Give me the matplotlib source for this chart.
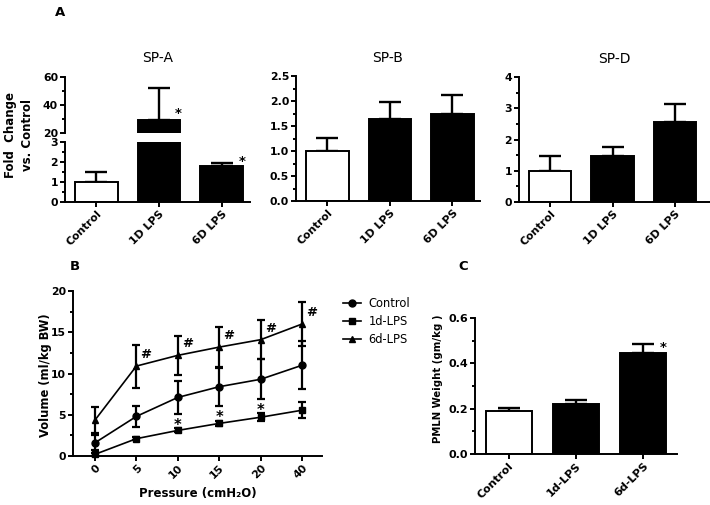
import matplotlib.pyplot as plt
import numpy as np
from matplotlib.lines import Line2D
from matplotlib.ticker import MultipleLocator

plt.rcParams['font.family'] = ['DejaVu Sans']
plt.rcParams['font.weight'] = 'bold'
plt.rcParams['axes.labelweight'] = 'bold'

# Panel A: surfactant protein fold change
groups_a = ['Control', '1D LPS', '6D LPS']
spa_mean = [1.0, 29.0, 1.8]
spa_err = [0.5, 23.0, 0.15]
spb_mean = [1.0, 1.65, 1.75]
spb_err = [0.27, 0.33, 0.38]
spd_mean = [1.0, 1.48, 2.55]
spd_err = [0.48, 0.29, 0.6]

# Panel B: pressure-volume curves
pressures = ['0', '5', '10', '15', '20', '40']
ctrl_vol = [1.6, 4.8, 7.1, 8.4, 9.3, 11.0]
ctrl_err = [0.9, 1.3, 2.0, 2.3, 2.4, 2.9]
lps1_vol = [0.2, 2.1, 3.1, 3.95, 4.7, 5.55]
lps1_err = [0.15, 0.2, 0.25, 0.35, 0.5, 0.95]
lps6_vol = [4.35, 10.9, 12.2, 13.2, 14.1, 16.0]
lps6_err = [1.6, 2.6, 2.35, 2.4, 2.35, 2.7]
hash_idx = [1, 2, 3, 4, 5]
star_idx = [2, 3, 4]

# Panel C: PMLN weight
groups_c = ['Control', '1d-LPS', '6d-LPS']
pmln_mean = [0.19, 0.22, 0.445]
pmln_err = [0.015, 0.02, 0.04]

fills = ['white', 'black', 'black']
LW = 1.4

W, H = 710, 505


def px_axes(x0, y0, x1, y1):
    # pixel box (top-left origin) -> figure fraction
    return fig.add_axes([x0 / W, 1 - y1 / H, (x1 - x0) / W, (y1 - y0) / H])


def style(ax, size=7.8):
    for s in ['top', 'right']:
        ax.spines[s].set_visible(False)
    for s in ['left', 'bottom']:
        ax.spines[s].set_linewidth(LW)
    ax.tick_params(which='major', length=3.5, width=LW, labelsize=size, pad=1.5)
    ax.tick_params(which='minor', length=2, width=LW)
    ax.tick_params(axis='x', which='minor', bottom=False)


def bars(ax, means, errs, capsize=8):
    x = np.arange(len(means))
    ax.bar(x, means, width=0.68, color=fills, edgecolor='black', linewidth=LW, zorder=2)
    ax.errorbar(x, means, yerr=[np.zeros(len(errs)), errs], fmt='none', ecolor='black',
                elinewidth=1.7, capsize=capsize, capthick=1.7, zorder=1)


def cat_labels(ax, labels, size=7.8):
    ax.set_xticks(np.arange(len(labels)))
    ax.set_xticklabels(labels, rotation=45, ha='right', rotation_mode='anchor', fontsize=size)


fig = plt.figure(figsize=(W / 100, H / 100), dpi=100)

# ---- SP-A with broken axis ----
ax_top = px_axes(65, 77, 250, 133)
ax_bot = px_axes(65, 142, 250, 202)
for ax in (ax_top, ax_bot):
    bars(ax, spa_mean, spa_err)
    style(ax)
    ax.set_xlim(-0.5, 2.45)
ax_top.set_ylim(20, 60)
ax_top.yaxis.set_major_locator(MultipleLocator(20))
ax_top.yaxis.set_minor_locator(MultipleLocator(10))
ax_top.spines['bottom'].set_visible(False)
ax_top.set_xticks([])
ax_bot.set_ylim(0, 3)
ax_bot.yaxis.set_major_locator(MultipleLocator(1))
ax_bot.yaxis.set_minor_locator(MultipleLocator(0.5))
cat_labels(ax_bot, groups_a)
ax_top.set_title('SP-A', fontsize=10, fontweight='normal', pad=10.5)
ax_top.text(1.3, spa_mean[1] + 5, '*', ha='center', va='center', fontsize=9.5)
ax_bot.text(2.32, spa_mean[2] + spa_err[2] + 0.05, '*', ha='center', va='center', fontsize=9.5)

# ---- SP-B ----
ax_b1 = px_axes(296, 76, 480, 201)
bars(ax_b1, spb_mean, spb_err)
style(ax_b1)
ax_b1.set_xlim(-0.5, 2.44)
ax_b1.set_ylim(0, 2.5)
ax_b1.yaxis.set_major_locator(MultipleLocator(0.5))
ax_b1.yaxis.set_minor_locator(MultipleLocator(0.25))
ax_b1.yaxis.set_major_formatter('{x:.1f}')
cat_labels(ax_b1, groups_a)
ax_b1.set_title('SP-B', fontsize=10, fontweight='normal', pad=10)

# ---- SP-D ----
ax_d = px_axes(519, 77, 710, 202)
bars(ax_d, spd_mean, spd_err)
style(ax_d)
ax_d.set_xlim(-0.5, 2.56)
ax_d.set_ylim(0, 4)
ax_d.yaxis.set_major_locator(MultipleLocator(1))
ax_d.yaxis.set_minor_locator(MultipleLocator(0.5))
cat_labels(ax_d, groups_a)
ax_d.set_title('SP-D', fontsize=10, fontweight='normal', pad=10)

fig.text(19 / W, 1 - 135 / H, 'Fold  Change\nvs. Control', rotation=90, ha='center',
         va='center', fontsize=8.5, linespacing=1.35)
fig.text(60 / W, 1 - 12 / H, 'A', ha='center', va='center', fontsize=9.5)

# ---- Panel B ----
ax_pv = px_axes(73, 291, 322, 456)
x = np.arange(len(pressures))
series = [(ctrl_vol, ctrl_err, 'o', 'Control'),
          (lps1_vol, lps1_err, 's', '1d-LPS'),
          (lps6_vol, lps6_err, '^', '6d-LPS')]
handles = []
for vol, err, mk, name in series:
    ax_pv.errorbar(x, vol, yerr=err, fmt='-', marker=mk, color='black', markersize=5,
                   lw=1.2, elinewidth=1.6, capsize=3, capthick=1.6, clip_on=False, zorder=3)
    handles.append(Line2D([], [], color='black', marker=mk, markersize=5, lw=1.2, label=name))
style(ax_pv, size=7.8)
ax_pv.set_xlim(-0.53, 5.48)
ax_pv.set_ylim(0, 20)
ax_pv.yaxis.set_major_locator(MultipleLocator(5))
ax_pv.yaxis.set_minor_locator(MultipleLocator(2.5))
cat_labels(ax_pv, pressures, size=7.8)
ax_pv.set_ylabel('Volume (ml/kg BW)', fontsize=8.3)
ax_pv.yaxis.set_label_coords(-0.085, 0.49)
ax_pv.set_xlabel('Pressure (cmH\u2082O)', fontsize=8.5)
ax_pv.xaxis.set_label_coords(0.502, -0.19)
for i in hash_idx:
    ax_pv.text(x[i] + 0.23, lps6_vol[i] + 1.4, '#', ha='center', va='center', fontsize=9.5)
for i in star_idx:
    ax_pv.text(x[i], lps1_vol[i] + lps1_err[i] - 0.2, '*', ha='center', va='baseline', fontsize=10.5)
fig.text(75 / W, 1 - 267 / H, 'B', ha='center', va='center', fontsize=9.5)

fig.legend(handles=handles, loc='upper left', bbox_to_anchor=(333 / W, 1 - 287 / H),
           frameon=False, handlelength=1.5, handletextpad=0.7, labelspacing=0.42,
           prop={'size': 8.3, 'weight': 'normal'})

# ---- Panel C ----
ax_c = px_axes(475, 318, 677, 454)
bars(ax_c, pmln_mean, pmln_err)
style(ax_c, size=8)
ax_c.set_xlim(-0.5, 2.5)
ax_c.set_ylim(0, 0.6)
ax_c.yaxis.set_major_locator(MultipleLocator(0.2))
ax_c.yaxis.set_minor_locator(MultipleLocator(0.1))
ax_c.yaxis.set_major_formatter('{x:.1f}')
cat_labels(ax_c, groups_c, size=8)
ax_c.set_ylabel('PMLN Weight (gm/kg )', fontsize=7.3)
ax_c.yaxis.set_label_coords(-0.16, 0.55)
ax_c.text(2.3, pmln_mean[2] + 0.023, '*', ha='center', va='center', fontsize=9.5)
fig.text(463 / W, 1 - 267 / H, 'C', ha='center', va='center', fontsize=9.5)

fig.savefig('out.png', dpi=100)
